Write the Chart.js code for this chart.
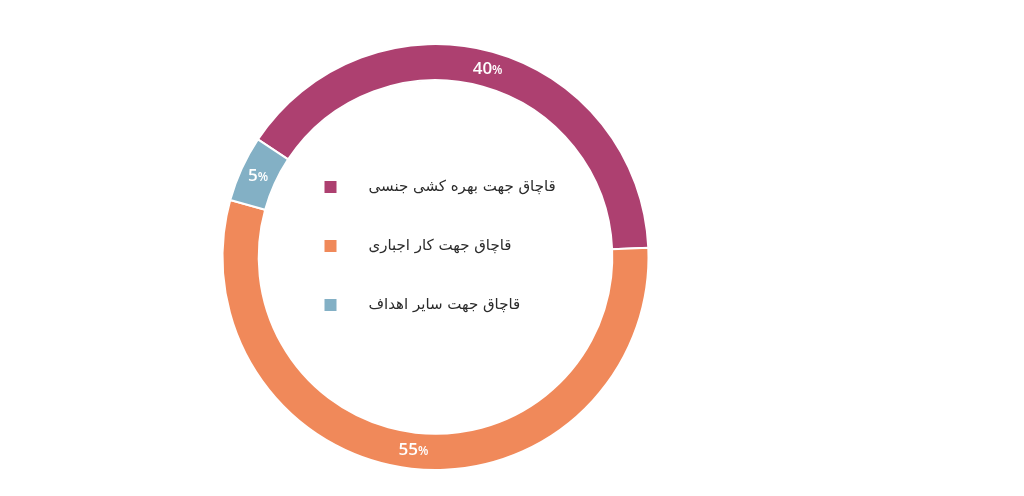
<!DOCTYPE html>
<html>
<head>
<meta charset="utf-8">
<script src="https://cdn.jsdelivr.net/npm/chart.js@4"></script>
<style>
  html, body { margin: 0; padding: 0; background: #fff; }
  #wrap { width: 1024px; height: 496px; }
</style>
</head>
<body>
<div id="wrap"><canvas id="chart"></canvas></div>
<script>
// data
const labels = ['قاچاق جهت بهره کشی جنسی', 'قاچاق جهت کار اجباری', 'قاچاق جهت سایر اهداف'];
const values = [40, 55, 5];
const colors = ['#ad4070', '#f0895a', '#83b0c5'];

// percent labels on the ring
const ringLabels = {
  id: 'ringLabels',
  afterDatasetsDraw(chart) {
    const ctx = chart.ctx;
    const meta = chart.getDatasetMeta(0);
    const total = values.reduce((a, b) => a + b, 0);
    ctx.save();
    ctx.fillStyle = '#fff';
    ctx.textBaseline = 'middle';
    meta.data.forEach((arc, i) => {
      const p = arc.tooltipPosition();
      const num = String(Math.round(values[i] / total * 100));
      ctx.font = '600 17px "Open Sans"';
      const w1 = ctx.measureText(num).width;
      ctx.font = '600 12px "Open Sans"';
      const w2 = ctx.measureText('%').width;
      const x0 = p.x - (w1 + w2) / 2;
      ctx.textAlign = 'left';
      ctx.font = '600 17px "Open Sans"';
      ctx.fillText(num, x0, p.y);
      ctx.font = '600 12px "Open Sans"';
      ctx.fillText('%', x0 + w1, p.y + 1);
    });
    ctx.restore();
  }
};

// legend drawn inside the hole
const innerLegend = {
  id: 'innerLegend',
  afterDraw(chart) {
    const ctx = chart.ctx;
    const meta = chart.getDatasetMeta(0);
    const arc = meta.data[0];
    const cx = arc.x, cy = arc.y;
    ctx.save();
    ctx.textBaseline = 'middle';
    ctx.textAlign = 'left';
    ctx.font = '15px "DejaVu Sans"';
    labels.forEach((txt, i) => {
      const y = cy - 70 + i * 59;
      ctx.fillStyle = colors[i];
      ctx.fillRect(cx - 111, y - 6, 12, 12);
      ctx.fillStyle = '#2b2b2b';
      ctx.fillText(txt, cx - 67, y);
    });
    ctx.restore();
  }
};

new Chart(document.getElementById('chart'), {
  type: 'doughnut',
  data: {
    labels: labels,
    datasets: [{
      data: values,
      backgroundColor: colors,
      borderColor: '#fff',
      borderWidth: 2
    }]
  },
  options: {
    responsive: true,
    maintainAspectRatio: false,
    animation: false,
    cutout: '83%',
    rotation: -56.5,
    layout: { padding: { left: 221.5, right: 374.5, top: 43, bottom: 25 } },
    plugins: {
      legend: { display: false },
      tooltip: { enabled: false }
    }
  },
  plugins: [ringLabels, innerLegend]
});
</script>
</body>
</html>
